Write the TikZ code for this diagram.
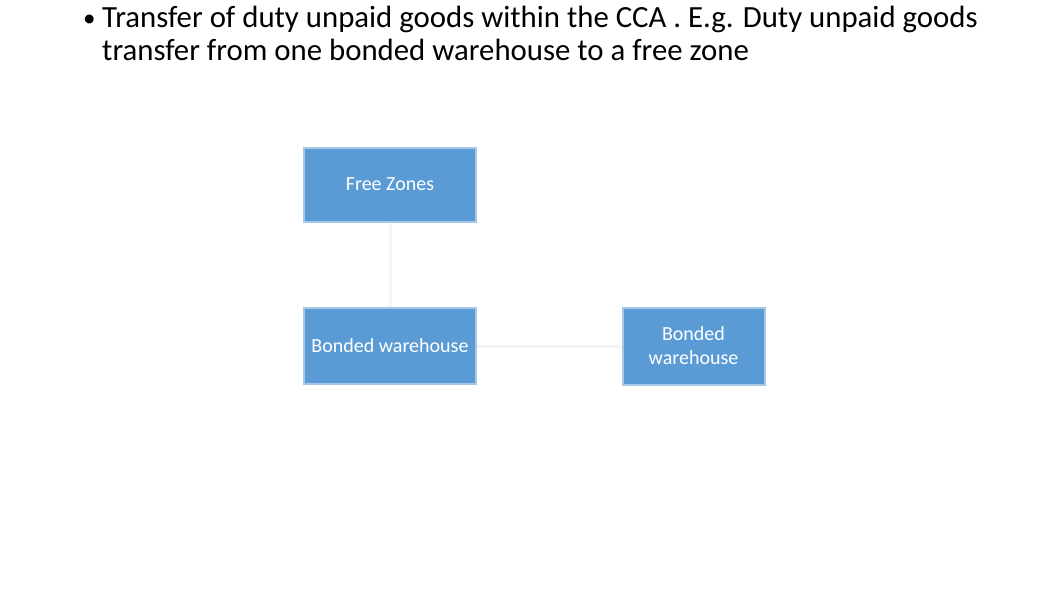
\documentclass[tikz,border=0pt]{standalone}
\usepackage{fontspec}
\setmainfont{Carlito}
\definecolor{boxblue}{HTML}{5B9BD5}
\definecolor{faint}{HTML}{F1F6F9}
\begin{document}
\begin{tikzpicture}[x=1pt,y=-1pt,
  box/.style={fill=boxblue,draw=boxblue!55!white,line width=2pt,text=white,font=\fontsize{20}{24}\selectfont,align=center,inner sep=0pt},
  link/.style={draw=faint,line width=3pt},
  head/.style={anchor=base west,inner sep=0pt,font=\fontsize{30.8}{33}\selectfont}]
\useasboundingbox[fill=white] (0,0) rectangle (1062,598);
\node[head,font=\fontsize{25}{30}\selectfont] (bul) at (83,26) {\textbullet};
\node[head] (l1) at (102,27) {Transfer of duty unpaid goods within the CCA . E.g. Duty unpaid goods};
\node[head] (l2) at (102,60) {transfer from one bonded warehouse to a free zone};
\node[box,minimum width=172pt,minimum height=74pt] (fz) at (390,184.5) {Free Zones};
\node[box,minimum width=172pt,minimum height=76pt] (bw1) at (390,346) {Bonded warehouse};
\node[box,minimum width=142pt,minimum height=77pt] (bw2) at (693.5,346) {Bonded\\warehouse};
\draw[link] (fz.south) -- (bw1.north);
\draw[link] (bw1.east) -- (bw2.west);
\end{tikzpicture}
\end{document}
